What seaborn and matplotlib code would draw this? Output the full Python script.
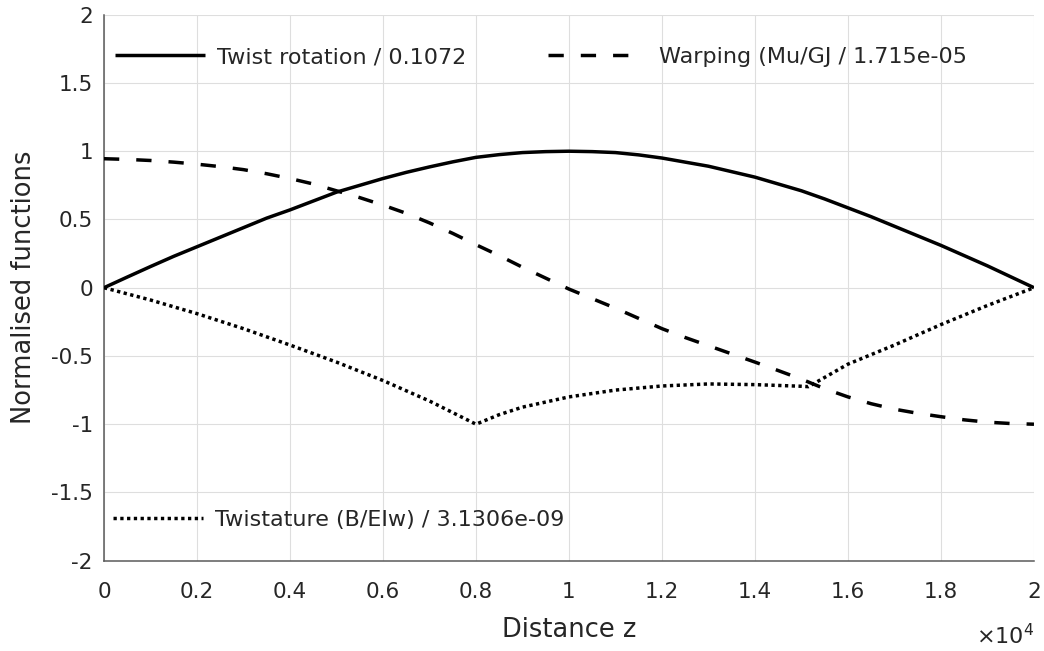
import matplotlib
matplotlib.use("Agg")
import numpy as np
import pandas as pd
import seaborn as sns
import matplotlib.pyplot as plt
from matplotlib.ticker import FuncFormatter

# ---------------- data ----------------
z_twist = [0, 500, 1000, 1500, 2000, 2500, 3000, 3500, 4000, 4500, 5000,
           5500, 6000, 6500, 7000, 7500, 8000, 8500, 9000, 9500, 10000,
           10500, 11000, 11500, 12000, 12500, 13000, 13500, 14000, 14500, 15000,
           15500, 16000, 16500, 17000, 17500, 18000, 18500, 19000, 19500, 20000]
twist = [0.0, 0.078, 0.155, 0.23, 0.30, 0.37, 0.44, 0.51, 0.57, 0.635, 0.70,
         0.75, 0.80, 0.845, 0.885, 0.922, 0.955, 0.975, 0.99, 0.997, 1.0,
         0.997, 0.99, 0.973, 0.95, 0.92, 0.89, 0.85, 0.81, 0.76, 0.71,
         0.65, 0.585, 0.52, 0.45, 0.38, 0.31, 0.235, 0.16, 0.08, 0.0]

z_warp = [0, 500, 1000, 1500, 2000, 2500, 3000, 3500, 4000, 4500, 5000,
          5500, 6000, 6500, 7000, 7500, 8000, 8500, 9000, 9500, 10000,
          10500, 11000, 11500, 12000, 12500, 13000, 13500, 14000, 14500, 15000,
          15500, 16000, 16500, 17000, 17500, 18000, 18500, 19000, 19500, 20000]
warp = [0.945, 0.94, 0.932, 0.92, 0.905, 0.887, 0.865, 0.835, 0.80, 0.76, 0.71,
        0.66, 0.605, 0.545, 0.475, 0.398, 0.315, 0.235, 0.15, 0.07, -0.01,
        -0.08, -0.15, -0.225, -0.30, -0.365, -0.425, -0.485, -0.545, -0.607, -0.67,
        -0.74, -0.80, -0.85, -0.89, -0.92, -0.945, -0.968, -0.985, -0.995, -1.0]

z_twistature = [0, 1000, 2000, 3000, 4000, 5000, 6000, 7000, 8000, 8500, 9000,
                10000, 11000, 12000, 13000, 14000, 15000, 15150, 16000, 17000,
                18000, 19000, 20000]
twistature = [0.0, -0.09, -0.19, -0.30, -0.42, -0.545, -0.68, -0.83, -1.0, -0.93, -0.875,
              -0.80, -0.75, -0.72, -0.705, -0.71, -0.722, -0.725, -0.56, -0.42,
              -0.27, -0.13, 0.0]

labels = ["Twist rotation / 0.1072",
          "Warping (Mu/GJ / 1.715e-05",
          "Twistature (B/EIw) / 3.1306e-09"]

x_ticks = [0, 2000, 4000, 6000, 8000, 10000, 12000, 14000, 16000, 18000, 20000]
y_ticks = [-2, -1.5, -1, -0.5, 0, 0.5, 1, 1.5, 2]

# ---------------- style ----------------
sns.set_theme(style="whitegrid")
plt.rcParams["font.family"] = ["DejaVu Sans"]
plt.rcParams["axes.unicode_minus"] = False
TXT = "#262626"

fig = plt.figure(figsize=(10.44, 6.51), dpi=100)
ax = fig.add_axes([0.0996, 0.1387, 0.8908, 0.8387])
ax.set_facecolor("white")

LW = 2.5
sns.lineplot(x=z_twist, y=twist, ax=ax, color="black", linewidth=LW,
             estimator=None, legend=False, label=labels[0])
l_twist = ax.lines[-1]
sns.lineplot(x=z_warp, y=warp, ax=ax, color="black", linewidth=LW,
             estimator=None, legend=False, label=labels[1], linestyle="--")
l_warp = ax.lines[-1]
l_warp.set_dashes((4.4, 4.9))
sns.lineplot(x=z_twistature, y=twistature, ax=ax, color="black", linewidth=LW,
             estimator=None, legend=False, label=labels[2], linestyle=":")
l_tws = ax.lines[-1]
l_tws.set_dashes((0.95, 1.0))
for l in (l_twist, l_warp, l_tws):
    l.set_dash_capstyle("butt")
    l.set_solid_capstyle("butt")
    l.set_solid_joinstyle("round")
    l.set_zorder(3)

ax.set_xlim(0, 20000)
ax.set_ylim(-2, 2)
ax.set_xticks(x_ticks)
ax.set_yticks(y_ticks)
ax.xaxis.set_major_formatter(FuncFormatter(lambda v, p: "%g" % round(v / 1e4, 3)))
ax.yaxis.set_major_formatter(FuncFormatter(lambda v, p: "%g" % v))

ax.grid(True, color="#dedede", linewidth=0.8)
ax.set_axisbelow(True)
for s in ("top", "right"):
    ax.spines[s].set_visible(False)
for s in ("left", "bottom"):
    ax.spines[s].set_color("#5a5a5a")
    ax.spines[s].set_linewidth(1.1)

ax.tick_params(axis="both", direction="in", length=6, width=1.0, color="#5a5a5a",
               labelsize=15.5, labelcolor=TXT)
ax.tick_params(axis="x", pad=15)
ax.tick_params(axis="y", pad=8)

ax.set_xlabel("Distance z", fontsize=18.5, color=TXT, labelpad=11)
ax.set_ylabel("Normalised functions", fontsize=18.5, color=TXT, labelpad=10)

ax.text(1.0, -0.153, r"$\times10^{4}$", transform=ax.transAxes, ha="right",
        va="baseline", fontsize=16, color=TXT)

# ---------------- legends ----------------
common = dict(loc="center left", frameon=False, borderpad=0, borderaxespad=0,
              fontsize=16, handlelength=4.05, labelcolor=TXT)
leg1 = ax.legend([l_twist], [labels[0]], bbox_to_anchor=(0.0118, 0.9225),
                 handletextpad=0.55, **common)
ax.add_artist(leg1)
leg2 = ax.legend([l_warp], [labels[1]], bbox_to_anchor=(0.4774, 0.9225),
                 handletextpad=0.95, **common)
ax.add_artist(leg2)
leg3 = ax.legend([l_tws], [labels[2]], bbox_to_anchor=(0.0097, 0.0745),
                 handletextpad=0.55, **common)

fig.savefig("out.png", dpi=100)
